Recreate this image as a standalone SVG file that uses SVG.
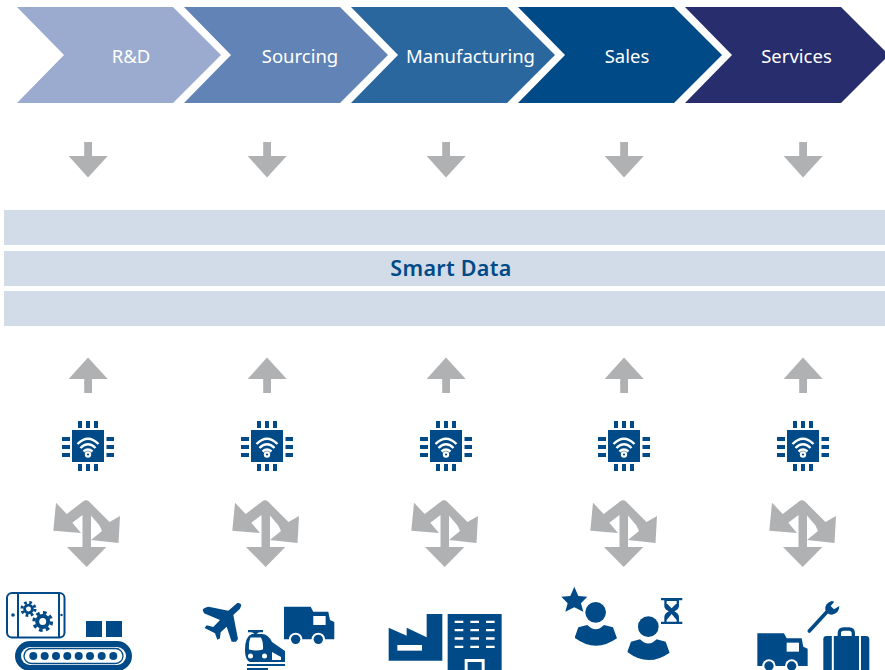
<svg xmlns="http://www.w3.org/2000/svg" width="885" height="670" viewBox="0 0 885 670">
<style>
.lbl{font-family:"Noto Sans","Liberation Sans",sans-serif;font-size:18.500px;fill:#fff;text-anchor:middle}
.band{fill:#d2dce8}
.ar{fill:#b0b1b3}
.bl{fill:#004a87}
.wh{fill:#fff}
.wifi{fill:none;stroke:#fff;stroke-width:2.400;stroke-linecap:butt}
</style>
<defs>
<path id="down" d="M84.200 142H92V156H107.700L88 177.500L68.700 156H84.200Z"/>
<path id="up" d="M88 357.500L107.700 379H92V393H84.200V379H68.700Z"/>
<path id="tri" d="M86.700 567L67 547H82.500V515L72.300 522.700L81 533L53.300 530.700L56 502.700L66.700 514L83 501.500Q86 499 89 501.500L109.500 522L120 516L118.500 543L91 540L102 531L99.500 525.500L91 515.500V547H106.300Z"/>
<g id="chip">
<rect class="bl" x="72" y="430" width="32" height="32"/>
<path class="bl" d="M78 421h4v7h-4zM86 421h4v7h-4zM94 421h4v7h-4zM78 464h4v7h-4zM86 464h4v7h-4zM94 464h4v7h-4zM62 437h8v4h-8zM62 445h8v4h-8zM62 453h8v4h-8zM106.500 437h7.500v4h-7.500zM106.500 445h7.500v4h-7.500zM106.500 453h7.500v4h-7.500z"/>
<path class="wifi" d="M77.500 444Q88 433.500 98.500 444M80.500 448Q88 440.500 95.500 448M83.500 451.500Q88 447.500 92.500 451.500"/>
<circle class="wh" cx="88" cy="454.500" r="3.200"/>
<circle class="bl" cx="88" cy="454.500" r="1.100"/>
</g>
<g id="truck">
<path class="bl" d="M852 110H932L940 125H985L990 150L1003 156V208H852Z"/>
<rect class="wh" x="940" y="138" width="37" height="27"/>
<circle class="wh" cx="887" cy="208" r="20"/><circle class="wh" cx="955" cy="208" r="20"/>
<circle class="bl" cx="887" cy="208" r="14"/><circle class="bl" cx="955" cy="208" r="14"/>
</g>
<g id="person">
<circle class="bl" cx="677" cy="127" r="31"/>
<path class="bl" d="M615 200L625 172L652 165Q677 190 702 165L729 172L741 205Q677 250 615 204Z"/>
</g>
</defs>

<g id="rnd"><path fill="#9aabcf" d="M17 7H173L221 55L173 103H17L64 55Z"/><text class="lbl" x="131" y="62.500">R&amp;D</text></g>
<g id="sourcing"><path fill="#6283b5" d="M184 7H340L388 55L340 103H184L231 55Z"/><text class="lbl" x="300" y="62.500">Sourcing</text></g>
<g id="manufacturing"><path fill="#2b679f" d="M351 7H507L555 55L507 103H351L398 55Z"/><text class="lbl" x="470.500" y="62.500">Manufacturing</text></g>
<g id="sales"><path class="bl" d="M518 7H674L722 55L674 103H518L565 55Z"/><text class="lbl" x="627" y="62.500">Sales</text></g>
<g id="services"><path fill="#282d6e" d="M685 7H841L889 55L841 103H685L732 55Z"/><text class="lbl" x="796.500" y="62.500">Services</text></g>

<g id="smart-data">
<rect class="band" x="4" y="210" width="881" height="35"/>
<rect class="band" x="4" y="251" width="881" height="35"/>
<rect class="band" x="4" y="291" width="881" height="35"/>
<text x="451" y="276" font-family="'Noto Sans','Liberation Sans',sans-serif" font-size="21.500" font-weight="600" fill="#004a87" text-anchor="middle" letter-spacing=".3">Smart Data</text>
</g>

<g id="connectors" class="ar">
<use href="#down"/><use href="#down" x="179"/><use href="#down" x="358"/><use href="#down" x="536"/><use href="#down" x="715"/>
<use href="#up"/><use href="#up" x="179"/><use href="#up" x="358"/><use href="#up" x="536"/><use href="#up" x="715"/>
<use href="#tri"/><use href="#tri" x="179"/><use href="#tri" x="358"/><use href="#tri" x="537"/><use href="#tri" x="716"/>
</g>

<g id="chip-1"><use href="#chip"/></g>
<g id="chip-2"><use href="#chip" x="179"/></g>
<g id="chip-3"><use href="#chip" x="358"/></g>
<g id="chip-4"><use href="#chip" x="536"/></g>
<g id="chip-5"><use href="#chip" x="715"/></g>

<g id="icon-rnd">
<rect x="7" y="593" width="57.500" height="44.500" rx="5" fill="none" stroke="#004a87" stroke-width="2"/>
<path d="M18 593V637.500M59 593V637.500" stroke="#004a87" stroke-width="2"/>
<circle class="bl" cx="13" cy="615" r="1.800"/><circle class="bl" cx="61.500" cy="615" r="1.200"/>
<g fill="none" stroke="#004a87">
<circle cx="28.500" cy="609" r="3.900" stroke-width="2.800"/><circle cx="28.500" cy="609" r="6.500" stroke-width="3" stroke-dasharray="2.600 2.505"/>
<circle cx="42.700" cy="621.500" r="5.500" stroke-width="4"/><circle cx="42.700" cy="621.500" r="8.800" stroke-width="3.200" stroke-dasharray="3.600 3.311"/>
</g>
<rect class="bl" x="86" y="621" width="16" height="16"/><rect class="bl" x="106" y="621" width="16" height="16"/>
<rect class="bl" x="15" y="641" width="117" height="30" rx="15"/>
<rect class="wh" x="21" y="647" width="105" height="18" rx="9"/>
<rect x="24" y="648.500" width="99" height="15" rx="7.500" fill="#fff" stroke="#004a87" stroke-width="1.300"/>
<g class="bl"><circle cx="33.300" cy="656" r="4"/><circle cx="44.700" cy="656" r="4"/><circle cx="56" cy="656" r="4"/><circle cx="67.300" cy="656" r="4"/><circle cx="78.700" cy="656" r="4"/><circle cx="90" cy="656" r="4"/><circle cx="101.700" cy="656" r="4"/><circle cx="113.300" cy="656" r="4"/></g>
</g>

<g id="icon-sourcing">
<g transform="translate(0 570) scale(.3333)">
<path class="bl" d="M724 106Q722 98 712 99L685 122L626 110Q612 112 608 120L612 130L660 150L640 171L620 166L614 174L645 190L652 209L660 205L662 187L680 170L695 215L708 215L714 207L700 135L720 116Z"/>
<use href="#truck"/>
</g>
<path class="bl" d="M248 630H263V632.200H259L256.500 634H262Q268 634 272 642L285 651V662H250Q245 660 245 650Q245 636 252 634H254.500L252 632.200H248Z"/>
<path class="wh" d="M250.500 637.500H261Q263.500 642 263 649.500Q256 651.500 249 649.500Q248.500 642 250.500 637.500Z"/>
<circle class="wh" cx="250.500" cy="656" r="2.500"/><circle class="wh" cx="264.500" cy="656" r="2.500"/>
<path class="wh" d="M272 652L281 657V660H272Z"/>
<rect class="bl" x="247" y="664" width="38" height="2"/>
<rect class="bl" x="247" y="668" width="21" height="2"/>
</g>

<g id="icon-manufacturing" transform="translate(370 570) scale(.3333)">
<path class="bl" d="M56 173L110 197V173L170 202V132H217V272H56Z"/>
<rect class="wh" x="82" y="225" width="74" height="17"/>
<rect class="bl" x="233" y="132" width="162" height="168"/>
<path class="wh" d="M254 152h26v7h-26zM301 152h26v7h-26zM348 152h26v7h-26zM254 177h26v7h-26zM301 177h26v7h-26zM348 177h26v7h-26zM254 202h26v7h-26zM301 202h26v7h-26zM348 202h26v7h-26zM254 227h26v7h-26zM301 227h26v7h-26zM348 227h26v7h-26z"/>
<rect class="wh" x="284" y="267" width="60" height="33"/>
<rect class="bl" x="293" y="276" width="42" height="24"/>
</g>

<g id="icon-sales" transform="translate(370 570) scale(.3333)">
<path class="bl" d="M613 50L625 78L652 80L633 100L640 125L613 112L586 125L593 100L574 80L601 78Z"/>
<use href="#person"/>
<use href="#person" x="158" y="43"/>
<path class="bl" d="M873 84H937V91H927V108Q927 118 913 124Q927 130 927 142V155H937V162H873V155H883V142Q883 130 897 124Q883 118 883 108V91H873Z"/>
<path class="wh" d="M890 93H920V100L905 115L890 100Z"/>
<path class="wh" d="M905 132L920 150V155H890V150Z"/>
</g>

<g id="icon-services" transform="translate(740 570) scale(.3333)">
<use href="#truck" x="-800" y="80"/>
<path d="M208 183L268 118" stroke="#004a87" stroke-width="11" stroke-linecap="round" fill="none"/>
<path class="bl" d="M256 120Q253 100 275 93L283 95L272 108L282 118L298 108Q298 130 276 134Q266 134 262 128Z"/>
<path class="bl" d="M260 198H378Q388 198 388 208V300H250V208Q250 198 260 198Z"/>
<path d="M278.500 198V300M360 198V300" stroke="#fff" stroke-width="6"/>
<path d="M298 198V190Q298 177 311 177H327Q340 177 340 190V198" fill="none" stroke="#004a87" stroke-width="10"/>
</g>
</svg>
